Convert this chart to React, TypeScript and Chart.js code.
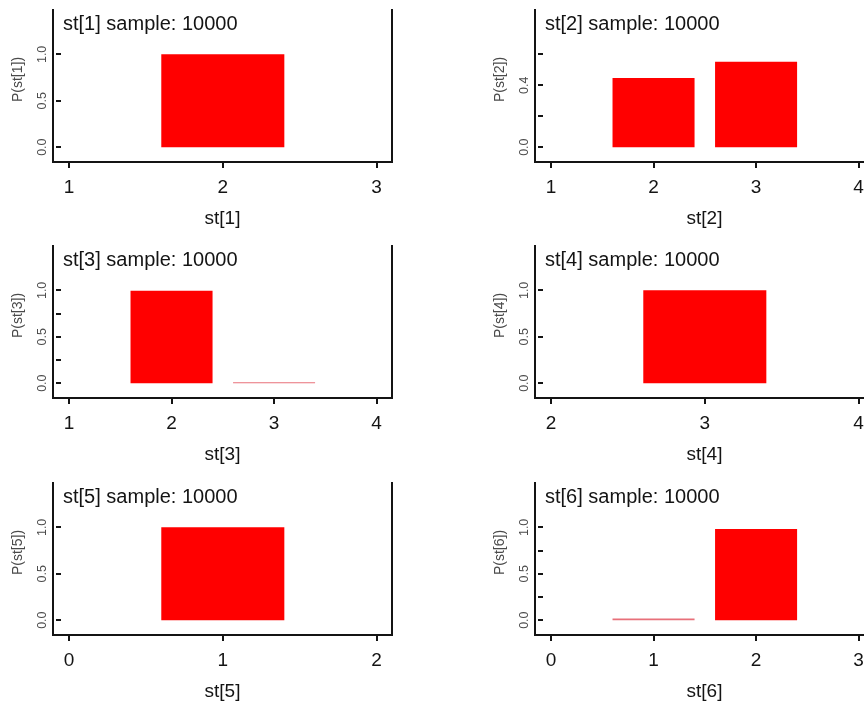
import React, { useEffect, useRef } from "react";
import { Chart, registerables } from "chart.js";

Chart.register(...registerables);

// ---- data ----
const sampleSize = 10000;

const st1States = [2];
const st1Probs = [1.0];
const st1XTicks = [1, 2, 3];

const st2States = [2, 3];
const st2Probs = [0.447, 0.553];
const st2XTicks = [1, 2, 3, 4];

const st3States = [2, 3];
const st3Probs = [0.997, 0.003];
const st3XTicks = [1, 2, 3, 4];

const st4States = [3];
const st4Probs = [1.0];
const st4XTicks = [2, 3, 4];

const st5States = [1];
const st5Probs = [1.0];
const st5XTicks = [0, 1, 2];

const st6States = [1, 2];
const st6Probs = [0.017, 0.983];
const st6XTicks = [0, 1, 2, 3];

const yTicksHalf = [0, 0.5, 1.0];
const yLabelsHalf = ["0.0", "0.5", "1.0"];
const yTicksQuarter = [0, 0.25, 0.5, 0.75, 1.0];
const yLabelsQuarter = ["0.0", "", "0.5", "", "1.0"];
const yTicksSt2 = [0, 0.2, 0.4, 0.6];
const yLabelsSt2 = ["0.0", "", "0.4", ""];

const panelNames = ["st[1]", "st[2]", "st[3]", "st[4]", "st[5]", "st[6]"];

const panels = [
  { name: panelNames[0], states: st1States, probs: st1Probs, xTicks: st1XTicks, yTicks: yTicksHalf, yLabels: yLabelsHalf },
  { name: panelNames[1], states: st2States, probs: st2Probs, xTicks: st2XTicks, yTicks: yTicksSt2, yLabels: yLabelsSt2 },
  { name: panelNames[2], states: st3States, probs: st3Probs, xTicks: st3XTicks, yTicks: yTicksQuarter, yLabels: yLabelsQuarter },
  { name: panelNames[3], states: st4States, probs: st4Probs, xTicks: st4XTicks, yTicks: yTicksHalf, yLabels: yLabelsHalf },
  { name: panelNames[4], states: st5States, probs: st5Probs, xTicks: st5XTicks, yTicks: yTicksHalf, yLabels: yLabelsHalf },
  { name: panelNames[5], states: st6States, probs: st6Probs, xTicks: st6XTicks, yTicks: yTicksQuarter, yLabels: yLabelsQuarter },
];

// ---- layout / style ----
const FONT = '"Liberation Sans", Arial, Helvetica, sans-serif';
const COL_W = 482;
const ROW_TOPS = [0, 236, 473];
const CANVAS_H = 237;
const INK = "#141414";
const GREY = "#4a4a4a";

const rStylePlugin = {
  id: "rStyle",
  afterDraw(chart: any, _args: any, opts: any) {
    const { ctx, chartArea, scales } = chart;
    const y = scales.y;
    ctx.save();
    // inner y tick dashes
    ctx.strokeStyle = INK;
    ctx.lineWidth = 2;
    y.ticks.forEach((t: any) => {
      const py = Math.round(y.getPixelForValue(t.value));
      ctx.beginPath();
      ctx.moveTo(chartArea.left + 3, py);
      ctx.lineTo(chartArea.left + 8, py);
      ctx.stroke();
    });
    // in-plot heading
    ctx.font = `20px ${FONT}`;
    ctx.fillStyle = INK;
    ctx.textAlign = "left";
    ctx.textBaseline = "middle";
    ctx.fillText(opts.label, chartArea.left + 10, chartArea.top + 15);
    // y axis title (rotated)
    ctx.translate(18.5, chartArea.top + 70);
    ctx.rotate(-Math.PI / 2);
    ctx.font = `14px ${FONT}`;
    ctx.fillStyle = GREY;
    ctx.textAlign = "center";
    ctx.fillText(opts.yTitle, 0, 0);
    ctx.restore();
  },
};

function Panel({ p, left, top }: { p: any; left: number; top: number }) {
  const ref = useRef<HTMLCanvasElement | null>(null);
  useEffect(() => {
    if (!ref.current) return;
    const xs = p.xTicks;
    const xSpan = xs[xs.length - 1] - xs[0];
    const xMin = xs[0] - 0.052 * xSpan;
    const xMax = xs[xs.length - 1] + 0.05 * xSpan;
    const ys = p.yTicks;
    const ySpan = ys[ys.length - 1] - ys[0];
    const yMin = ys[0] - 0.16 * ySpan;
    const yMax = ys[ys.length - 1] + 0.4835 * ySpan;

    const chart = new Chart(ref.current, {
      type: "bar",
      data: {
        datasets: [
          {
            data: p.states.map((s: number, i: number) => ({ x: s, y: p.probs[i] })),
            backgroundColor: (c: any) => (c.raw && c.raw.y < 0.05 ? "#e8707a" : "#ff0000"),
            borderWidth: 0,
            barPercentage: 0.8,
            categoryPercentage: 1.0,
            minBarLength: 1,
          },
        ],
      },
      options: {
        animation: false,
        responsive: false,
        devicePixelRatio: 1,
        layout: { padding: { left: 0, right: COL_W - 392, top: 8, bottom: 0 } },
        plugins: {
          legend: { display: false },
          tooltip: { enabled: false },
          rStyle: { label: `${p.name} sample: ${sampleSize}`, yTitle: `P(${p.name})` },
        } as any,
        scales: {
          x: {
            type: "linear",
            position: "bottom",
            min: xMin,
            max: xMax,
            bounds: "data",
            offset: false,
            afterBuildTicks: (s: any) => {
              s.ticks = xs.map((v: number) => ({ value: v }));
            },
            afterFit: (s: any) => {
              s.height = CANVAS_H - 162;
            },
            grid: {
              display: true,
              offset: false,
              drawOnChartArea: false,
              drawTicks: true,
              tickLength: 6,
              color: INK,
              tickColor: INK,
              lineWidth: 2,
              tickWidth: 2,
            },
            border: { display: true, color: INK, width: 2 },
            ticks: {
              autoSkip: false,
              maxRotation: 0,
              minRotation: 0,
              padding: 8.5,
              color: INK,
              font: { family: FONT, size: 19 },
              callback: (v: any) => String(v),
            },
            title: {
              display: true,
              text: p.name,
              color: INK,
              font: { family: FONT, size: 19 },
              padding: { top: 0, bottom: 7 },
            },
          },
          y: {
            type: "linear",
            position: "left",
            min: yMin,
            max: yMax,
            bounds: "data",
            afterBuildTicks: (s: any) => {
              s.ticks = ys.map((v: number) => ({ value: v }));
            },
            afterFit: (s: any) => {
              s.width = 53;
            },
            grid: { display: false, drawTicks: false },
            border: { display: true, color: INK, width: 2 },
            ticks: {
              autoSkip: false,
              minRotation: 90,
              maxRotation: 90,
              crossAlign: "center",
              padding: 2,
              color: GREY,
              font: { family: FONT, size: 12.5 },
              callback: (_v: any, i: number) => p.yLabels[i],
            },
            title: { display: false },
          },
          yRight: {
            type: "linear",
            position: "right",
            display: true,
            min: 0,
            max: 1,
            afterFit: (s: any) => {
              s.width = 0;
            },
            grid: { display: false, drawTicks: false },
            ticks: { display: false },
            border: { display: true, color: INK, width: 2 },
          },
        },
      } as any,
      plugins: [rStylePlugin as any],
    });
    return () => chart.destroy();
  }, [p]);

  return (
    <canvas
      ref={ref}
      width={COL_W}
      height={CANVAS_H}
      style={{ position: "absolute", left, top, width: COL_W, height: CANVAS_H }}
    />
  );
}

export default function App() {
  return (
    <div
      style={{
        position: "fixed",
        left: 0,
        top: 0,
        width: 864,
        height: 707,
        overflow: "hidden",
        background: "#ffffff",
      }}
    >
      {panels.map((p, i) => (
        <Panel key={p.name} p={p} left={(i % 2) * COL_W} top={ROW_TOPS[Math.floor(i / 2)]} />
      ))}
    </div>
  );
}
